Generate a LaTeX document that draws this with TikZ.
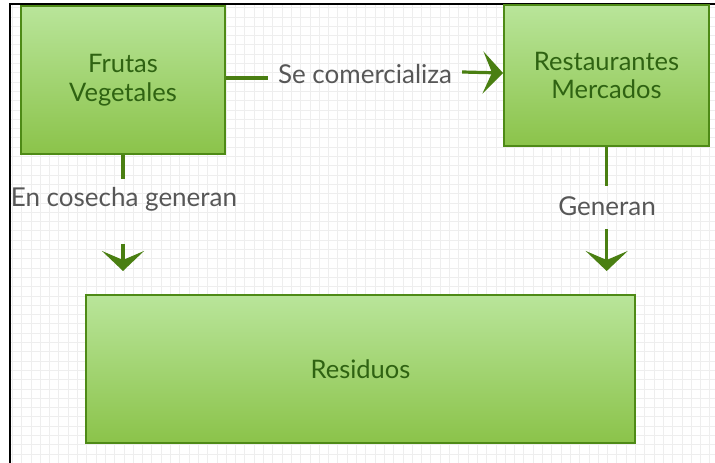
\documentclass[tikz,border=0pt]{standalone}
\usepackage{fontspec}
\setmainfont{Lato}
\usetikzlibrary{arrows.meta}
\definecolor{boxtop}{HTML}{B9E59A}
\definecolor{boxbot}{HTML}{8BC34A}
\definecolor{boxline}{HTML}{4E8A16}
\definecolor{boxtext}{HTML}{2F6312}
\definecolor{conncol}{HTML}{4A7F12}
\definecolor{lbltext}{HTML}{575757}
\definecolor{gridcol}{HTML}{EEEEEE}
\tikzset{
  greenbox/.style={draw=boxline, line width=2pt, top color=boxtop, bottom color=boxbot,
    rectangle, align=center, text=boxtext, font=\fontsize{25.5}{28.5}\selectfont, inner sep=0pt},
  conn/.style={draw=conncol, line width=3.2pt},
  arr/.style={conn, -{Stealth[length=20pt,width=42pt,inset=9pt]}},
  lbl/.style={text=lbltext, font=\fontsize{26}{30}\selectfont, inner sep=0pt}
}
\begin{document}
\begin{tikzpicture}[x=1pt,y=-1pt]
\useasboundingbox (0,0) rectangle (715,463);
% grid
\foreach \i in {0,...,75} { \draw[gridcol, line width=0.6pt] ({12.2+9.3*\i},3.5) -- ({12.2+9.3*\i},463); }
\foreach \j in {0,...,49} { \draw[gridcol, line width=0.6pt] (9.5,{7.5+9.3*\j}) -- (715,{7.5+9.3*\j}); }
% frame
\draw[black, line width=2pt] (9.5,463) -- (9.5,3.5) -- (715,3.5);
% boxes
\node[greenbox, minimum width=204pt, minimum height=148pt] (frutas) at (123,80) {Frutas\\Vegetales};
\node[greenbox, minimum width=205pt, minimum height=141pt] (rest) at (606.5,75.5) {Restaurantes\\Mercados};
\node[greenbox, minimum width=549pt, minimum height=148pt] (resid) at (360.5,369) {Residuos};
% labels
\node[lbl, inner xsep=10pt] (lcom) at (365,74) {Se comercializa};
\node[lbl] (lcos) at (124,199) {En cosecha generan};
\node[lbl] (lgen) at (607,206) {Generan};
% coordinates for free arrow ends
\coordinate (a1s) at (123,244);
\coordinate (a1t) at (123,271);
\coordinate (a2s) at (606.7,229);
\coordinate (a2t) at (606.7,271);
\coordinate (f1) at (123,179);
\coordinate (f2) at (606.7,186);
% connectors
\draw[conn] ([yshift=2pt]frutas.east) -- ([yshift=-4pt]lcom.west);
\draw[arr] ([yshift=2pt]lcom.east) -- ([yshift=2.5pt]rest.west);
\draw[conn] (frutas.south) -- (f1);
\draw[arr] (a1s) -- (a1t);
\draw[conn] (rest.south -| f2) -- (f2);
\draw[arr] (a2s) -- (a2t);
\end{tikzpicture}
\end{document}
